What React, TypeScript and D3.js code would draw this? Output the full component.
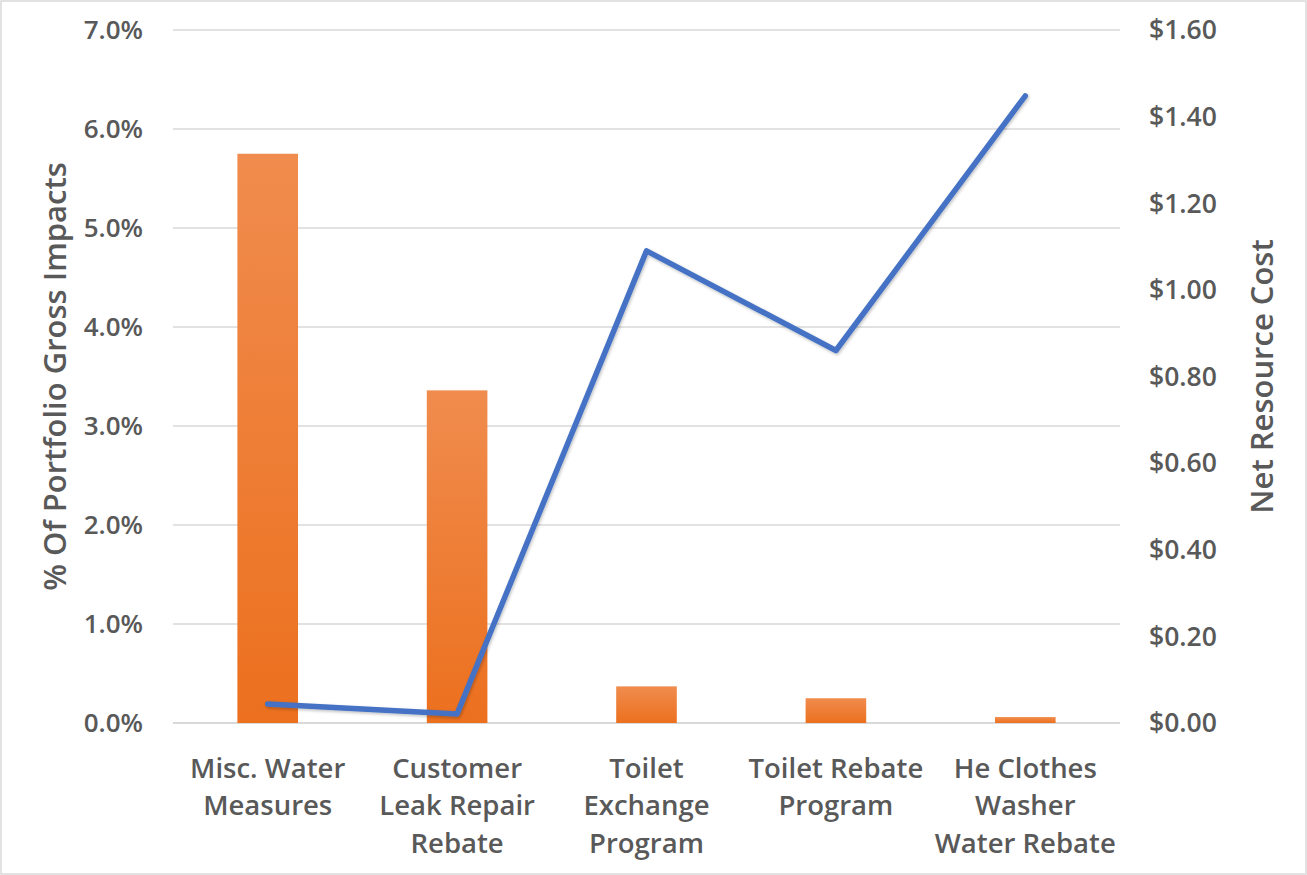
import React from "react";
import * as d3 from "d3";

const categories: string[][] = [
  ["Misc. Water", "Measures"],
  ["Customer", "Leak Repair", "Rebate"],
  ["Toilet", "Exchange", "Program"],
  ["Toilet Rebate", "Program"],
  ["He Clothes", "Washer", "Water Rebate"],
];
const grossImpactPct: number[] = [5.75, 3.36, 0.37, 0.25, 0.06];
const netResourceCost: number[] = [0.044, 0.021, 1.09, 0.86, 1.448];
const leftTicks: number[] = [0, 1, 2, 3, 4, 5, 6, 7];
const rightTicks: number[] = [0, 0.2, 0.4, 0.6, 0.8, 1.0, 1.2, 1.4, 1.6];

const W = 1307;
const H = 875;
const plot = { left: 173, right: 1120, top: 30, bottom: 723 };
const textColor = "#595959";
const font = "'Open Sans', Lato, sans-serif";

export default function App() {
  const idx = categories.map((_, i) => String(i));
  const x = d3.scaleBand<string>().domain(idx).range([plot.left, plot.right]).paddingInner(0.68).paddingOuter(0.34);
  const yL = d3.scaleLinear().domain([0, 7]).range([plot.bottom, plot.top]);
  const yR = d3.scaleLinear().domain([0, 1.6]).range([plot.bottom, plot.top]);
  const cx = (i: number) => (x(String(i)) as number) + x.bandwidth() / 2;

  const line = d3
    .line<number>()
    .x((_, i) => cx(i))
    .y((d) => yR(d));

  return (
    <svg
      width={W}
      height={H}
      style={{ position: "absolute", left: 0, top: 0, background: "#fff" }}
      fontFamily={font}
    >
      <defs>
        <linearGradient id="barFill" x1="0" y1="0" x2="0" y2="1">
          <stop offset="0%" stopColor="#F08C4E" />
          <stop offset="100%" stopColor="#EC701E" />
        </linearGradient>
        <filter id="lineShadow" x="-10%" y="-10%" width="120%" height="120%">
          <feDropShadow dx="1" dy="1.5" stdDeviation="1.5" floodColor="#000" floodOpacity="0.25" />
        </filter>
      </defs>
      <rect x={1} y={1} width={W - 2} height={H - 2} fill="#fff" stroke="#d9d9d9" strokeWidth={1.5} />

      {leftTicks.map((t) => (
        <line
          key={"g" + t}
          x1={plot.left}
          x2={plot.right}
          y1={yL(t)}
          y2={yL(t)}
          stroke="#d9d9d9"
          strokeWidth={t === 0 ? 2 : 1.3}
        />
      ))}

      {grossImpactPct.map((v, i) => (
        <rect
          key={"b" + i}
          x={x(String(i))}
          y={yL(v)}
          width={x.bandwidth()}
          height={yL(0) - yL(v)}
          fill="url(#barFill)"
        />
      ))}

      <path
        d={line(netResourceCost) || ""}
        fill="none"
        stroke="#4472C4"
        strokeWidth={5.5}
        strokeLinejoin="round"
        strokeLinecap="round"
        filter="url(#lineShadow)"
      />

      {leftTicks.map((t) => (
        <text
          key={"lt" + t}
          x={143}
          y={yL(t)}
          dy="0.35em"
          textAnchor="end"
          fontSize={26}
          fontWeight={600}
          fill={textColor}
        >
          {t.toFixed(1) + "%"}
        </text>
      ))}

      {rightTicks.map((t) => (
        <text
          key={"rt" + t}
          x={1149}
          y={yR(t)}
          dy="0.35em"
          textAnchor="start"
          fontSize={26.5}
          fontWeight={600}
          fill={textColor}
        >
          {"$" + t.toFixed(2)}
        </text>
      ))}

      {categories.map((lines, i) => (
        <text key={"c" + i} textAnchor="middle" fontSize={27.5} fontWeight={600} fill={textColor}>
          {lines.map((ln, j) => (
            <tspan key={j} x={cx(i)} y={768 + j * 37.5} dy="0.35em">
              {ln}
            </tspan>
          ))}
        </text>
      ))}

      <text
        transform={`translate(55,${(plot.top + plot.bottom) / 2}) rotate(-90)`}
        textAnchor="middle"
        dy="0.35em"
        fontSize={31}
        fontWeight={600}
        fill={textColor}
      >
        % Of Portfolio Gross Impacts
      </text>
      <text
        transform={`translate(1262,${(plot.top + plot.bottom) / 2}) rotate(-90)`}
        textAnchor="middle"
        dy="0.35em"
        fontSize={31}
        fontWeight={600}
        fill={textColor}
      >
        Net Resource Cost
      </text>
    </svg>
  );
}
